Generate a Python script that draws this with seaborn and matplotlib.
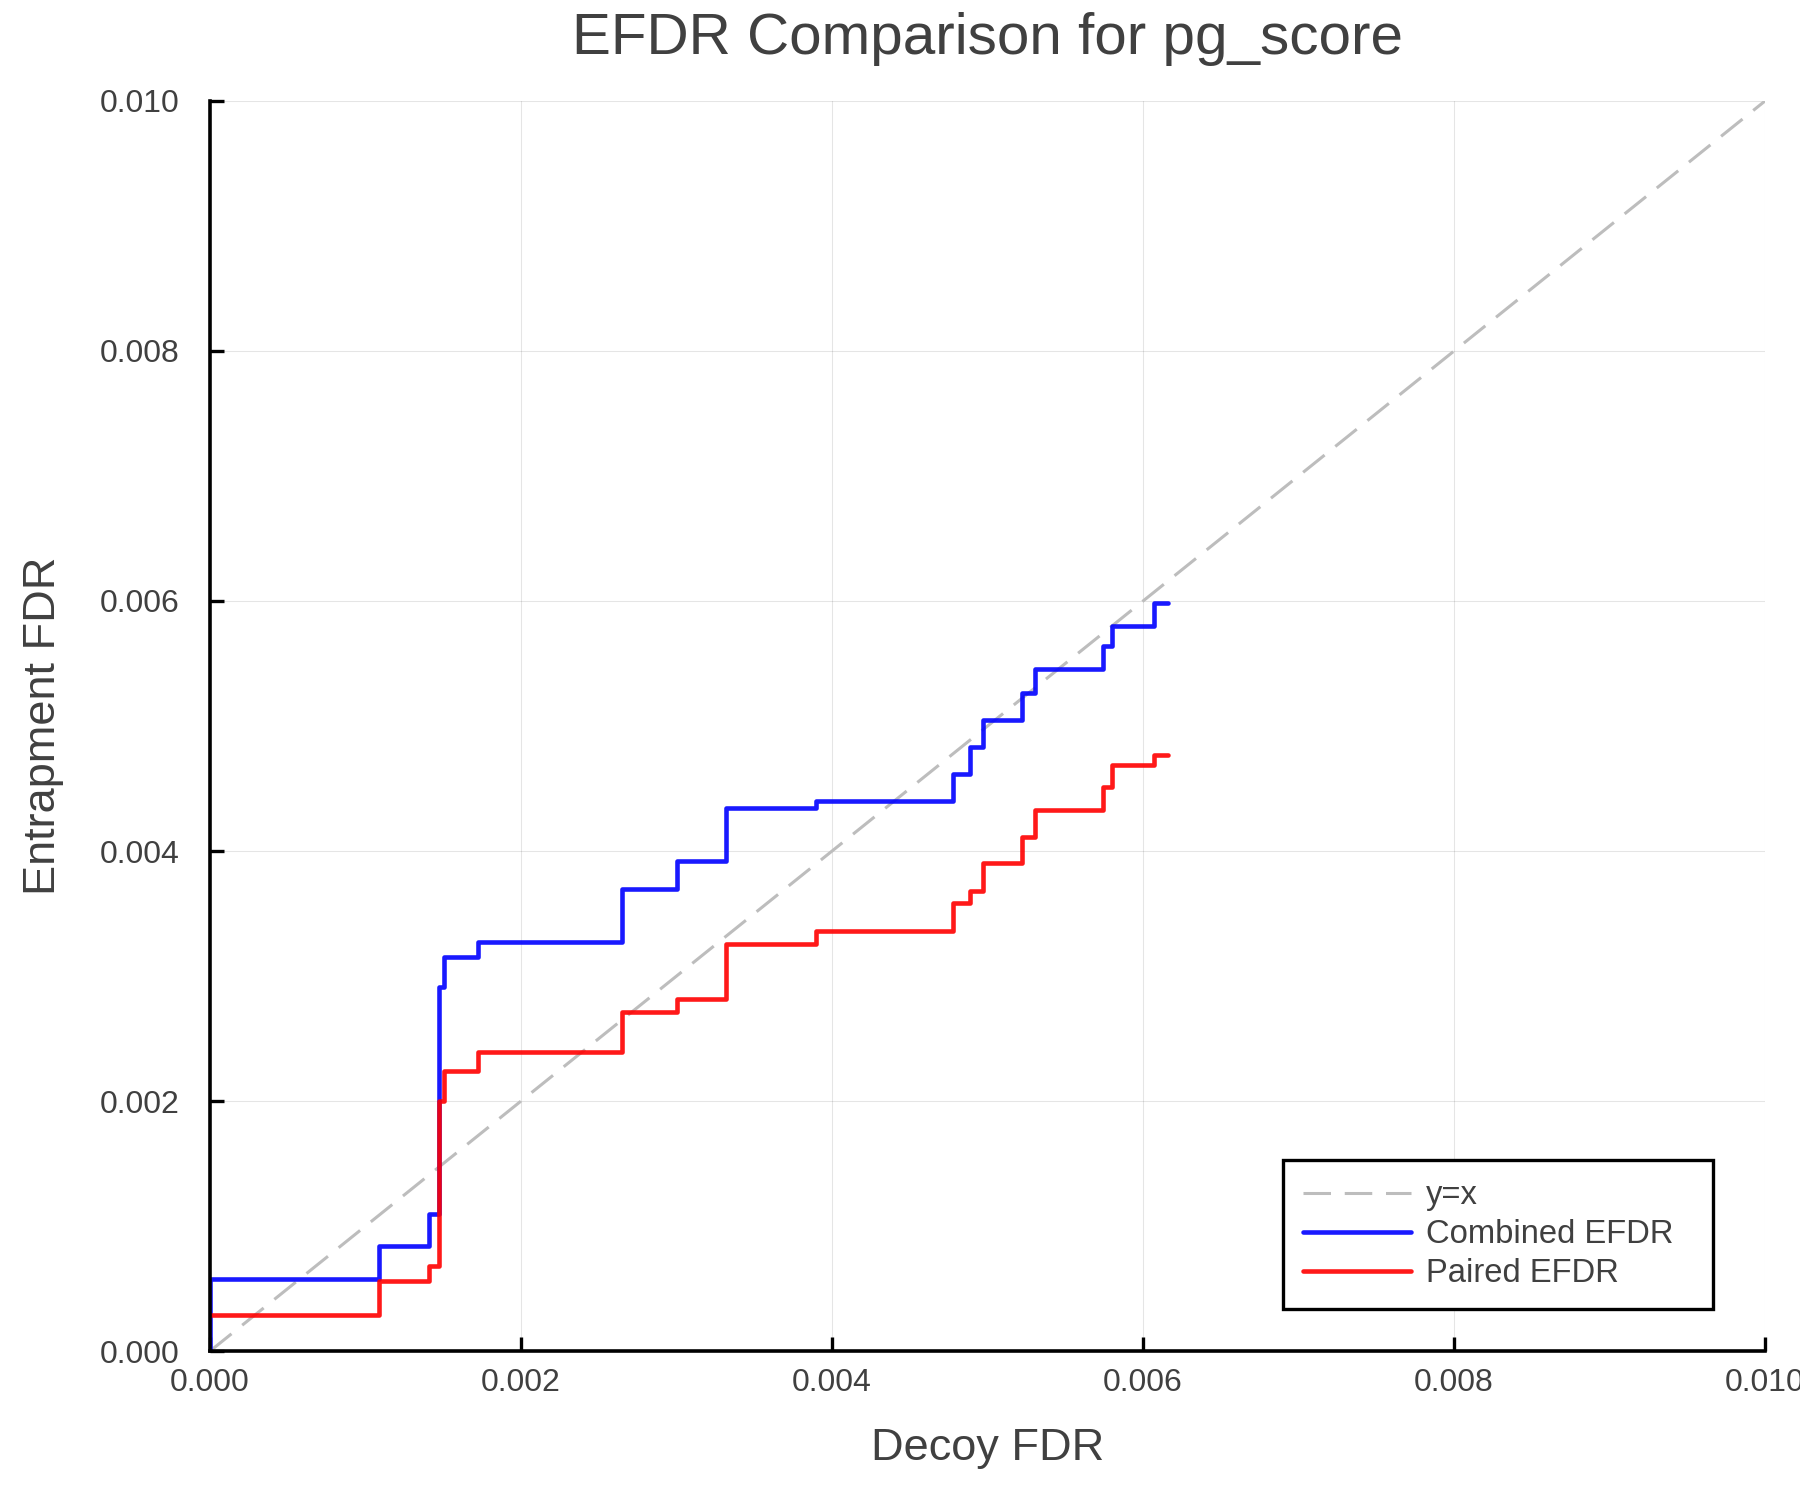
import numpy as np
import pandas as pd
import matplotlib
matplotlib.use('Agg')
import matplotlib.pyplot as plt
import seaborn as sns

# 데이터
decoy_fdr = [0.0, 0.0, 0.001089, 0.00141, 0.001475, 0.001505, 0.001725, 0.002648,
             0.003, 0.00332, 0.003897, 0.00478, 0.00489, 0.00497, 0.00522,
             0.005305, 0.00574, 0.0058, 0.00607, 0.00616]
combined_efdr = [0.0, 0.000573, 0.00084, 0.001096, 0.00291, 0.003155, 0.003275, 0.0037,
                 0.00392, 0.004342, 0.0044, 0.00462, 0.004834, 0.005048, 0.005262,
                 0.005455, 0.00564, 0.0058, 0.00598, 0.00598]
decoy_fdr_paired = decoy_fdr[1:]
paired_efdr = [0.000288, 0.000562, 0.00068, 0.002, 0.00224, 0.002395, 0.002715,
               0.002814, 0.003255, 0.003363, 0.003587, 0.003683, 0.003902, 0.004113,
               0.004328, 0.004514, 0.004688, 0.004768, 0.004768]
diag = [0.0, 0.010]
ticks = [0.0, 0.002, 0.004, 0.006, 0.008, 0.010]
tick_labels = ['0.000', '0.002', '0.004', '0.006', '0.008', '0.010']

sns.set_style('white')
plt.rcParams['font.family'] = ['Liberation Sans', 'DejaVu Sans']
TXT = '#404040'

fig = plt.figure(figsize=(18, 15), dpi=100)
ax = fig.add_axes([0.1167, 0.0993, 0.8639, 0.8334])

sns.lineplot(x=diag, y=diag, ax=ax, color='#bdbdbd', linewidth=2.2,
             linestyle='--', label='y=x')
ax.lines[-1].set_dashes((9, 4.5))
sns.lineplot(x=decoy_fdr, y=combined_efdr, ax=ax, color='blue', alpha=0.9,
             linewidth=3.3, estimator=None, sort=False, drawstyle='steps-post',
             label='Combined EFDR')
sns.lineplot(x=decoy_fdr_paired, y=paired_efdr, ax=ax, color='red', alpha=0.9,
             linewidth=3.3, estimator=None, sort=False, drawstyle='steps-post',
             label='Paired EFDR')

ax.set_xlim(0, 0.010)
ax.set_ylim(0, 0.010)
ax.set_xticks(ticks)
ax.set_xticklabels(tick_labels)
ax.set_yticks(ticks)
ax.set_yticklabels(tick_labels)
ax.grid(True, color='black', alpha=0.1, linewidth=0.8)

for side in ['top', 'right']:
    ax.spines[side].set_visible(False)
for side in ['left', 'bottom']:
    ax.spines[side].set_color('black')
    ax.spines[side].set_linewidth(2.6)

ax.tick_params(axis='both', direction='in', length=10, width=2.4, color='black',
               labelsize=23, labelcolor=TXT, bottom=True, left=True)
ax.tick_params(axis='x', pad=12)
ax.tick_params(axis='y', pad=22)

ax.set_title('EFDR Comparison for pg_score', fontsize=42, color=TXT, pad=34)
ax.set_xlabel('Decoy FDR', fontsize=32.5, color=TXT, labelpad=22)
ax.set_ylabel('Entrapment FDR', fontsize=32.5, color=TXT, labelpad=26)

leg = ax.legend(loc='lower left', bbox_to_anchor=(0.690, 0.0336, 0.2765, 0.1),
                mode='expand', fontsize=23.6, frameon=True, fancybox=False,
                framealpha=1, edgecolor='black', borderaxespad=0,
                handlelength=3.3, handletextpad=0.45, labelspacing=0.25,
                borderpad=0.6)
leg.get_frame().set_linewidth(2.4)
for t in leg.get_texts():
    t.set_color(TXT)

plt.savefig('out.png', dpi=100)
plt.close()
